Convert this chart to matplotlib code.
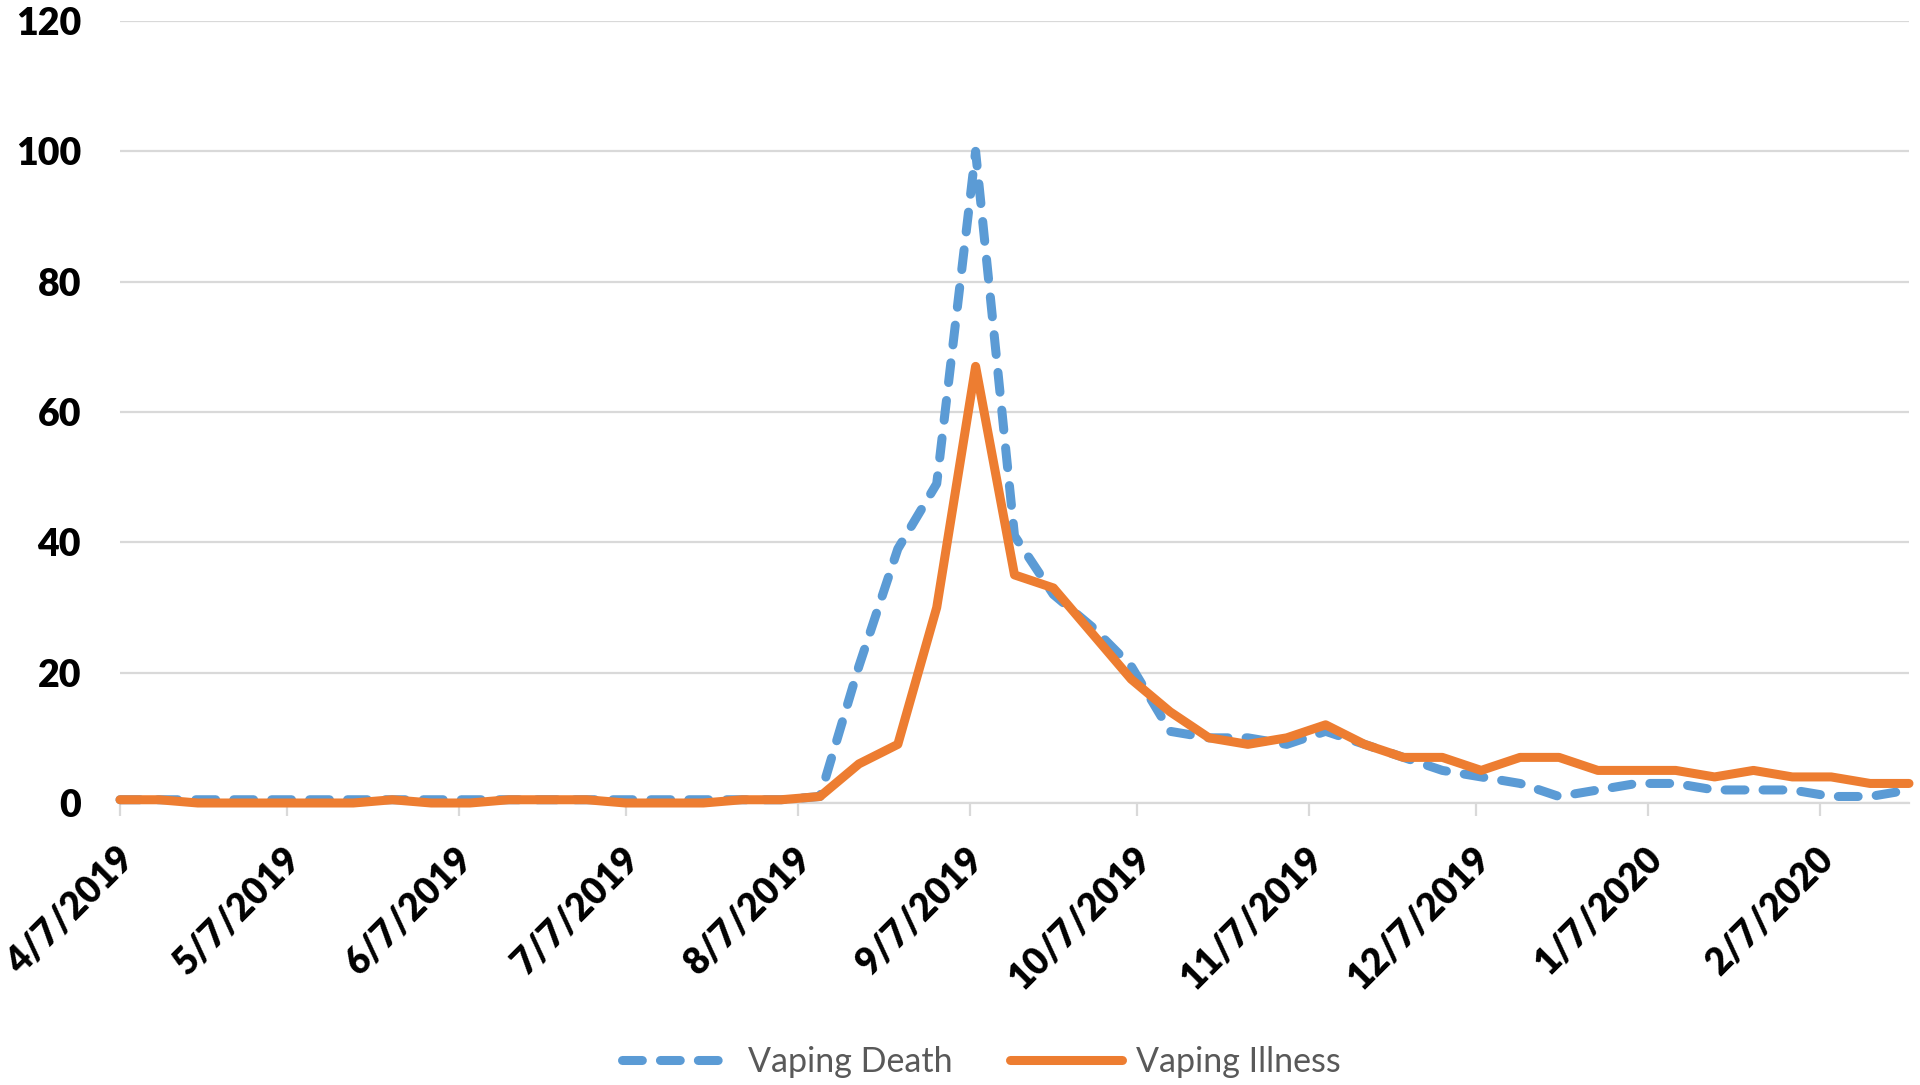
import numpy as np
import pandas as pd
import matplotlib
matplotlib.use("Agg")
import matplotlib.pyplot as plt
import matplotlib.dates as mdates
import matplotlib.transforms as mtransforms
from matplotlib.ticker import FuncFormatter

# weekly values, starting Sunday 4/7/2019
start_date = "2019-04-07"
n_weeks = 47

vaping_death = [0.5, 0.5, 0.5, 0.5, 0.5, 0.5, 0.5, 0.5, 0.5, 0.5,
                0.5, 0.5, 0.5, 0.5, 0.5, 0.5, 0.5, 0.5, 1, 21,
                39, 49, 100, 41, 32, 27, 21, 11, 10, 10,
                9, 11, 9, 7, 5, 4, 3, 1, 2, 3,
                3, 2, 2, 2, 1, 1, 2]
vaping_illness = [0.5, 0.5, 0, 0, 0, 0, 0, 0.5, 0, 0,
                  0.5, 0.5, 0.5, 0, 0, 0, 0.5, 0.5, 1, 6,
                  9, 30, 67, 35, 33, 26, 19, 14, 10, 9,
                  10, 12, 9, 7, 7, 5, 7, 7, 5, 5,
                  5, 4, 5, 4, 4, 3, 3]
y_ticks = [0, 20, 40, 60, 80, 100, 120]

dates = pd.date_range(start_date, periods=n_weeks, freq="7D")

plt.rcParams['font.family'] = ['Lato', 'DejaVu Sans']

fig = plt.figure(figsize=(19.2, 10.85), dpi=100)
ax = fig.add_axes([120/1920, 1 - 803/1085, 1789/1920, 782/1085])

blue = '#5B9BD5'
orange = '#ED7D31'
lw = 6.5

ax.plot(dates, vaping_death, color=blue, lw=lw, linestyle=(0, (2.2, 2.0)),
        dash_capstyle='round', label='Vaping Death', clip_on=False, zorder=3)
ax.plot(dates, vaping_illness, color=orange, lw=lw, solid_capstyle='round',
        solid_joinstyle='round', label='Vaping Illness', clip_on=False, zorder=4)

ax.set_xlim(dates[0], dates[-1])
ax.set_ylim(0, 120)
ax.set_yticks(y_ticks)
ax.yaxis.grid(True, color='#D9D9D9', lw=1.6)
ax.set_axisbelow(True)

for s in ['top', 'right', 'left']:
    ax.spines[s].set_visible(False)
ax.spines['bottom'].set_color('#D9D9D9')
ax.spines['bottom'].set_linewidth(1.6)

ax.xaxis.set_major_locator(mdates.MonthLocator(bymonthday=7))
ax.xaxis.set_major_formatter(FuncFormatter(
    lambda v, p: "{0.month}/{0.day}/{0.year}".format(mdates.num2date(v))))

ax.tick_params(axis='y', length=0, pad=28, labelsize=27)
ax.tick_params(axis='x', length=9, width=1.6, color='#D9D9D9', pad=27, labelsize=26.5)
for lab in ax.get_yticklabels():
    lab.set_fontweight('heavy')
shift = mtransforms.ScaledTranslation(8/100, 0, fig.dpi_scale_trans)
for lab in ax.get_xticklabels():
    lab.set_fontweight('heavy')
    lab.set_rotation(45)
    lab.set_ha('right')
    lab.set_va('center')
    lab.set_rotation_mode('anchor')
    lab.set_transform(lab.get_transform() + shift)

leg = fig.legend(loc='center', bbox_to_anchor=(0.511, 0.021), ncol=2, frameon=False,
                 fontsize=24.5, handlelength=3.3, handletextpad=0.4, columnspacing=1.7)
for t in leg.get_texts():
    t.set_color('#595959')

fig.savefig('out.png', dpi=100)
